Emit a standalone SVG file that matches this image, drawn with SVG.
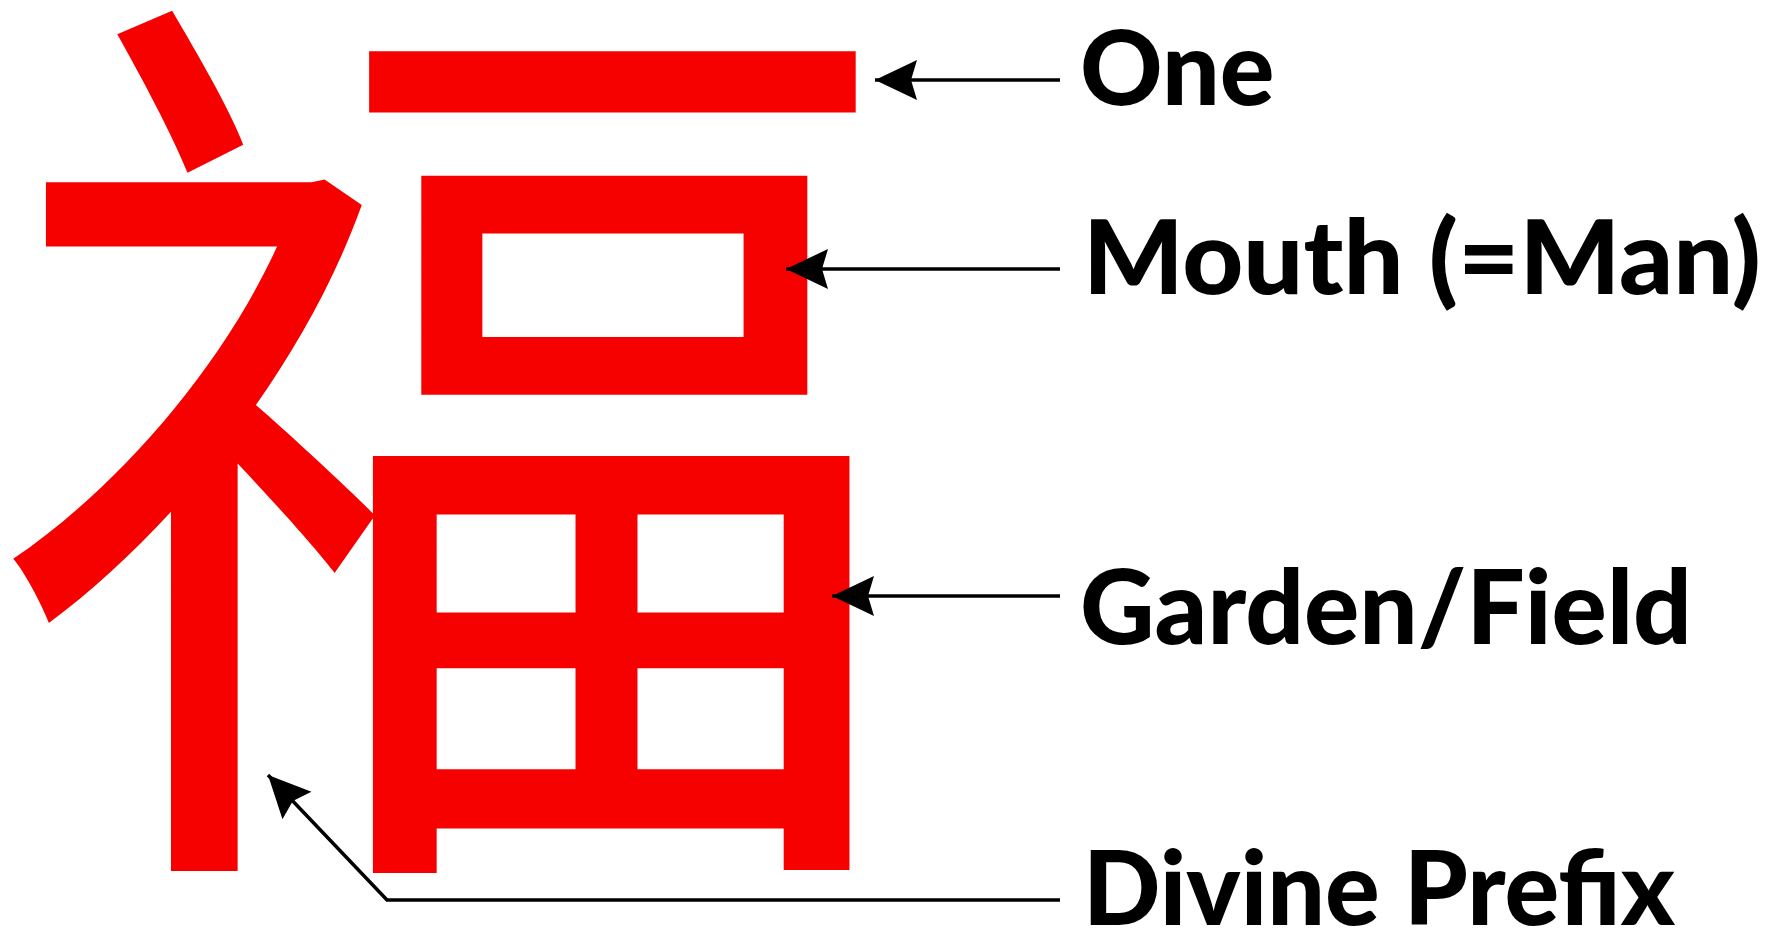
<svg xmlns="http://www.w3.org/2000/svg" width="1787" height="937" viewBox="0 0 1787 937">
<defs>
<style>
.lbl{font-family:Lato,"Open Sans",sans-serif;font-weight:900;font-size:102px;fill:#000}
.conn{fill:none;stroke:#000;stroke-width:3.5}
.glyph{font-family:"Noto Sans CJK SC","Noto Sans CJK JP",sans-serif;font-size:950px;fill:#f60000}
</style>
<marker id="ah" markerUnits="userSpaceOnUse" markerWidth="46" markerHeight="42" refX="42" refY="20" orient="auto">
<path d="M0,0 L42,20 L0,40 L6,20 Z" fill="#000"/>
</marker>
</defs>
<rect width="1787" height="937" fill="#fff"/>
<g id="character" transform="translate(5.4,-4.9) scale(0.961,0.993)">
<text class="glyph" x="-10" y="808">福</text>
</g>
<g id="connectors">
<path class="conn" d="M1060,80 L875,80" marker-end="url(#ah)"/>
<path class="conn" d="M1060,269 L786,269" marker-end="url(#ah)"/>
<path class="conn" d="M1060,596 L832,596" marker-end="url(#ah)"/>
<path class="conn" d="M1060,900 L387,900 L268,775" marker-end="url(#ah)"/>
</g>
<g id="label-one"><text class="lbl" x="1080" y="105">One</text></g>
<g id="label-mouth"><text class="lbl" x="1083" y="294" textLength="678" lengthAdjust="spacingAndGlyphs">Mouth (=Man)</text></g>
<g id="label-garden"><text class="lbl" x="1080" y="644" textLength="612" lengthAdjust="spacingAndGlyphs">Garden/Field</text></g>
<g id="label-divine"><text class="lbl" x="1083" y="925">Divine Prefix</text></g>
</svg>
